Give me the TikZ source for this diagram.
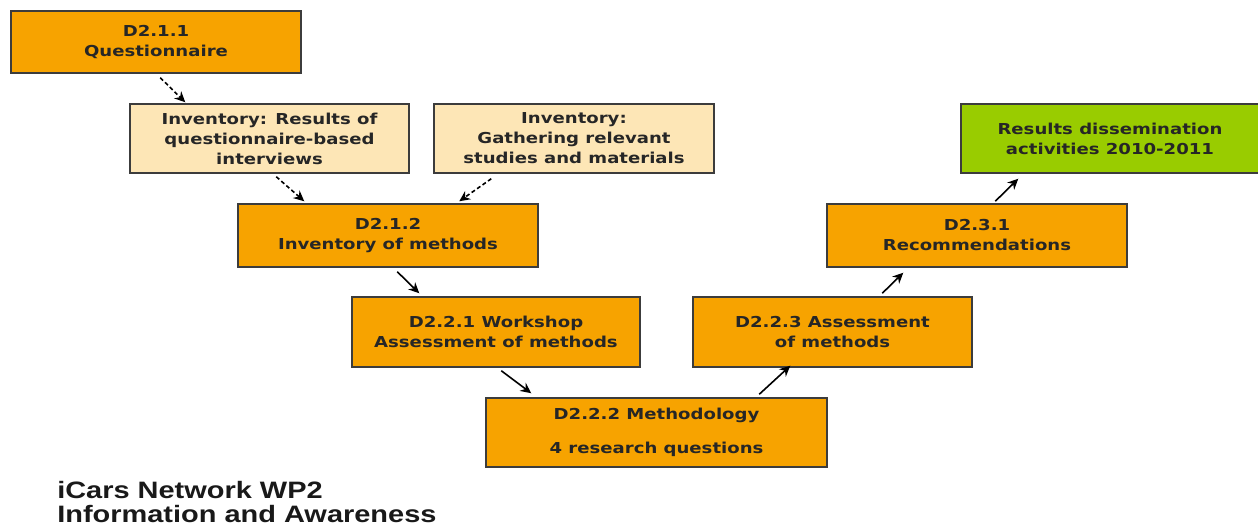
\documentclass[tikz,border=0pt]{standalone}
\usepackage{fontspec}
\usetikzlibrary{arrows.meta,calc}
\newfontfamily\boxfont[FakeStretch=1.2]{DejaVu Sans}
\newfontfamily\titlefont[FakeStretch=1.22]{Liberation Sans}
\definecolor{orng}{RGB}{247,163,0}
\definecolor{beige}{RGB}{253,230,182}
\definecolor{lime}{RGB}{153,204,0}
\definecolor{edge}{RGB}{60,60,60}
\begin{document}
\begin{tikzpicture}[x=0.75pt,y=-0.75pt,
  box/.style={draw=edge,line width=1.1pt,align=center,inner sep=0pt,
    font=\boxfont\bfseries\fontsize{11.3pt}{15pt}\selectfont,text=black!85},
  obox/.style={box,fill=orng},
  bbox/.style={box,fill=beige},
  gbox/.style={box,fill=lime},
  arr/.style={line width=1.2pt,black,-{Stealth[length=8pt,width=7.5pt]}},
  darr/.style={arr,dash pattern=on 3pt off 2pt}]
\useasboundingbox (0,0) rectangle (1258,527);
\begin{scope}
\clip (0,0) rectangle (1258,527);
\node[obox,minimum width=217.5pt,minimum height=46.5pt] (q) at (156,42) {D2.1.1\\Questionnaire};
\node[bbox,minimum width=209.25pt,minimum height=51.75pt] (invr) at (269.5,138.5) {Inventory: Results of\\questionnaire-based\\interviews};
\node[bbox,minimum width=210pt,minimum height=51.75pt] (invg) at (574,138.5) {Inventory:\\Gathering relevant\\studies and materials};
\node[gbox,minimum width=223.5pt,minimum height=51.75pt] (res) at (1110,138.5) {Results dissemination\\activities 2010-2011};
\node[obox,minimum width=225pt,minimum height=47.25pt] (d212) at (388,235.5) {D2.1.2\\Inventory of methods};
\node[obox,minimum width=216pt,minimum height=52.5pt] (d221) at (496,332) {D2.2.1 Workshop\\Assessment of methods};
\node[obox,minimum width=255.75pt,minimum height=51.75pt] (d222) at (656.5,432.5) {D2.2.2 Methodology\\[11pt]4 research questions};
\node[obox,minimum width=209.25pt,minimum height=52.5pt] (d223) at (832.5,332) {D2.2.3 Assessment\\of methods};
\node[obox,minimum width=225pt,minimum height=47.25pt] (d231) at (977,235.5) {D2.3.1\\Recommendations};
\end{scope}
\draw[darr] ($(q.south west)+(150,4)$) -- ($(invr.north west)+(56,-1)$);
\draw[darr] ($(invr.south west)+(147,3)$) -- ($(d212.north west)+(67,-2)$);
\draw[darr] ($(invg.south west)+(58,5)$) -- ($(d212.north west)+(222,-2)$);
\draw[arr] ($(d212.south west)+(160,4)$) -- ($(d221.north west)+(68,-3)$);
\draw[arr] ($(d221.south west)+(150,3)$) -- ($(d222.north west)+(46,-4)$);
\draw[arr] ($(d222.north west)+(274,-3)$) -- ($(d223.south west)+(98,-2)$);
\draw[arr] ($(d223.north west)+(190,-3)$) -- ($(d231.south west)+(77,5)$);
\draw[arr] ($(d231.north west)+(169,-2)$) -- ($(res.south west)+(58,5)$);
\node[anchor=north west,inner sep=0pt,align=left,text=black!90,
  font=\titlefont\bfseries\fontsize{17.8pt}{18pt}\selectfont] (title) at (57,481)
  {iCars Network WP2\\Information and Awareness};
\end{tikzpicture}
\end{document}
